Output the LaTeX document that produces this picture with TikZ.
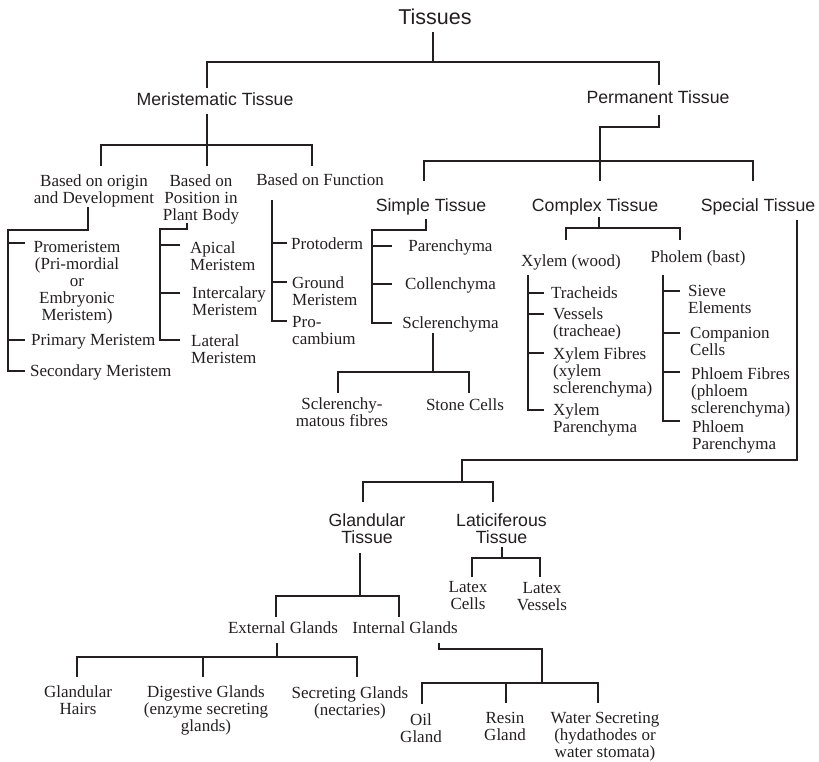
\documentclass[tikz,border=0pt]{standalone}
\usepackage{fontspec}
\setmainfont{Liberation Serif}
\setsansfont{Liberation Sans}
\definecolor{encre}{HTML}{231F20}
\tikzset{
  titre/.style={font=\sffamily\fontsize{17.7}{17.7}\selectfont, inner sep=0pt, text=encre},
  texte/.style={font=\fontsize{17}{17}\selectfont, inner sep=0pt, text=encre},
  lien/.style={draw=encre, line width=1.3pt},
}
\begin{document}
\begin{tikzpicture}[x=1pt, y=-1pt]
    \useasboundingbox (0,0) rectangle (819,761);

    % La racine et les deux grands groupes
    \node[titre, font=\sffamily\fontsize{21.5}{22}\selectfont, anchor=base] (tis) at (435,24) {Tissues};
    \node[titre, anchor=base] (mer) at (215,105) {Meristematic Tissue};
    \node[titre, anchor=base] (perm) at (658,103) {Permanent Tissue};

    \coordinate (tis-b) at (433,32);
    \coordinate (j1) at (433,62);
    \coordinate (mer-h) at (207,88);
    \coordinate (perm-h) at (659,85);
    \draw[lien] (tis-b) -- (j1);
    \draw[lien] (mer-h) |- (j1) -| (perm-h);

    % Meristematic : les trois criteres
    \node[texte, align=center, anchor=north] (orig) at (94,174) {Based on origin\\and Development};
    \node[texte, align=center, anchor=north] (posit) at (201,174) {Based on\\Position in\\Plant Body};
    \node[texte, anchor=base] (func) at (320,185) {Based on Function};

    \coordinate (mer-b) at (207,114);
    \coordinate (j2) at (207,145);
    \coordinate (orig-h) at (101,166);
    \coordinate (posit-h) at (207,166);
    \coordinate (func-h) at (312,166);
    \draw[lien] (mer-b) -- (posit-h);
    \draw[lien] (orig-h) |- (j2) -| (func-h);

    % Selon l'origine
    \node[texte, align=center, anchor=north] (prom) at (77,241) {Promeristem\\(Pri-mordial\\or\\Embryonic\\Meristem)};
    \node[texte, anchor=base west] (prim) at (31,345) {Primary Meristem};
    \node[texte, anchor=base west] (second) at (30,376) {Secondary Meristem};

    \coordinate (orig-b) at (88,207);
    \coordinate (o1) at (8,230);
    \coordinate (prom-t) at (25,243);
    \coordinate (prim-t) at (25,340);
    \coordinate (second-t) at (25,371);
    \draw[lien] (orig-b) |- (o1) |- (second-t);
    \draw[lien] (prom-t -| o1) -- (prom-t);
    \draw[lien] (prim-t -| o1) -- (prim-t);

    % Selon la position
    \node[texte, align=left, anchor=north west] (apic) at (190,241) {Apical\\Meristem};
    \node[texte, align=left, anchor=north west] (inter) at (192,286) {Intercalary\\Meristem};
    \node[texte, align=left, anchor=north west] (later) at (191,334) {Lateral\\Meristem};

    \coordinate (posit-b) at (187,223);
    \coordinate (p1) at (160,229);
    \coordinate (apic-t) at (180,245);
    \coordinate (inter-t) at (180,293);
    \coordinate (later-t) at (180,340);
    \draw[lien] (posit-b) |- (p1) |- (later-t);
    \draw[lien] (apic-t -| p1) -- (apic-t);
    \draw[lien] (inter-t -| p1) -- (inter-t);

    % Selon la fonction
    \node[texte, anchor=base west] (proto) at (291,249) {Protoderm};
    \node[texte, align=left, anchor=north west] (ground) at (292,276) {Ground\\Meristem};
    \node[texte, align=left, anchor=north west] (procamb) at (292,316) {Pro-\\cambium};

    \coordinate (func-b) at (272,200);
    \coordinate (proto-t) at (287,243);
    \coordinate (ground-t) at (287,282);
    \coordinate (procamb-t) at (287,321);
    \draw[lien] (func-b) |- (procamb-t);
    \draw[lien] (proto-t -| func-b) -- (proto-t);
    \draw[lien] (ground-t -| func-b) -- (ground-t);

    % Permanent : simple, complexe, special
    \node[titre, anchor=base] (simp) at (431,211) {Simple Tissue};
    \node[titre, anchor=base] (comp) at (595,211) {Complex Tissue};
    \node[titre, anchor=base] (spec) at (758,211) {Special Tissue};

    \coordinate (perm-b) at (659,115);
    \coordinate (q1) at (600,127);
    \coordinate (q2) at (600,161);
    \coordinate (simp-h) at (424,181);
    \coordinate (comp-h) at (600,181);
    \coordinate (spec-h) at (753,181);
    \draw[lien] (perm-b) |- (q1) -- (comp-h);
    \draw[lien] (simp-h) |- (q2) -| (spec-h);

    % Tissu simple
    \node[texte, anchor=base] (paren) at (450.5,251) {Parenchyma};
    \node[texte, anchor=base] (collen) at (450.5,289) {Collenchyma};
    \node[texte, anchor=base] (scler) at (450.5,328) {Sclerenchyma};

    \coordinate (simp-b) at (426,219);
    \coordinate (s1) at (372,230);
    \coordinate (paren-t) at (392,246);
    \coordinate (collen-t) at (392,284);
    \coordinate (scler-t) at (392,323);
    \draw[lien] (simp-b) |- (s1) |- (scler-t);
    \draw[lien] (paren-t -| s1) -- (paren-t);
    \draw[lien] (collen-t -| s1) -- (collen-t);

    % Sclerenchyme
    \node[texte, align=center, anchor=north] (sclfib) at (342,397) {Sclerenchy-\\matous fibres};
    \node[texte, anchor=base] (stone) at (465,410) {Stone Cells};

    \coordinate (scler-b) at (433,333);
    \coordinate (s2) at (433,372);
    \coordinate (sclfib-h) at (338,393);
    \coordinate (stone-h) at (469,393);
    \draw[lien] (scler-b) -- (s2);
    \draw[lien] (sclfib-h) |- (s2) -| (stone-h);

    % Tissu complexe
    \node[texte, anchor=base] (xyl) at (571,266) {Xylem (wood)};
    \node[texte, anchor=base] (phl) at (698,262) {Pholem (bast)};

    \coordinate (comp-b) at (599,217);
    \coordinate (c1) at (599,228);
    \coordinate (xyl-h) at (566,240);
    \coordinate (phl-h) at (680,240);
    \draw[lien] (comp-b) -- (c1);
    \draw[lien] (xyl-h) |- (c1) -| (phl-h);

    % Xyleme
    \node[texte, anchor=base west] (trach) at (551,298) {Tracheids};
    \node[texte, align=left, anchor=north west] (vess) at (553,307) {Vessels\\(tracheae)};
    \node[texte, align=left, anchor=north west] (xfib) at (553,347) {Xylem Fibres\\(xylem\\sclerenchyma)};
    \node[texte, align=left, anchor=north west] (xpar) at (553,403) {Xylem\\Parenchyma};

    \coordinate (xyl-b) at (528,275);
    \coordinate (trach-t) at (544,293);
    \coordinate (vess-t) at (544,314);
    \coordinate (xfib-t) at (544,353);
    \coordinate (xpar-t) at (544,410);
    \draw[lien] (xyl-b) |- (xpar-t);
    \draw[lien] (trach-t -| xyl-b) -- (trach-t);
    \draw[lien] (vess-t -| xyl-b) -- (vess-t);
    \draw[lien] (xfib-t -| xyl-b) -- (xfib-t);

    % Phloeme
    \node[texte, align=left, anchor=north west] (sieve) at (688,285) {Sieve\\Elements};
    \node[texte, align=left, anchor=north west] (compan) at (690,327) {Companion\\Cells};
    \node[texte, align=left, anchor=north west] (pfib) at (691,367) {Phloem Fibres\\(phloem\\sclerenchyma)};
    \node[texte, align=left, anchor=north west] (ppar) at (692,420) {Phloem\\Parenchyma};

    \coordinate (phl-b) at (663,275);
    \coordinate (sieve-t) at (680,291);
    \coordinate (compan-t) at (680,333);
    \coordinate (pfib-t) at (680,372);
    \coordinate (ppar-t) at (680,421);
    \draw[lien] (phl-b) |- (ppar-t);
    \draw[lien] (sieve-t -| phl-b) -- (sieve-t);
    \draw[lien] (compan-t -| phl-b) -- (compan-t);
    \draw[lien] (pfib-t -| phl-b) -- (pfib-t);

    % Tissu special
    \node[titre, align=center, anchor=north] (gland) at (367,513) {Glandular\\Tissue};
    \node[titre, align=center, anchor=north] (latic) at (501.5,513) {Laticiferous\\Tissue};

    \coordinate (spec-b) at (797,220);
    \coordinate (r1) at (462,460);
    \coordinate (r2) at (462,482);
    \coordinate (gland-h) at (363,502);
    \coordinate (latic-h) at (493,502);
    \draw[lien] (spec-b) |- (r1) -- (r2);
    \draw[lien] (gland-h) |- (r2) -| (latic-h);

    % Laticiferes
    \node[texte, align=center, anchor=north] (lcell) at (468,581) {Latex\\Cells};
    \node[texte, align=center, anchor=north] (lvess) at (542,582) {Latex\\Vessels};

    \coordinate (latic-b) at (502,547);
    \coordinate (l1) at (502,558);
    \coordinate (lcell-h) at (472,577);
    \coordinate (lvess-h) at (540,577);
    \draw[lien] (latic-b) -- (l1);
    \draw[lien] (lcell-h) |- (l1) -| (lvess-h);

    % Glandulaire
    \node[texte, anchor=base] (ext) at (283,633) {External Glands};
    \node[texte, anchor=base] (int) at (405,633) {Internal Glands};

    \coordinate (gland-b) at (360,553);
    \coordinate (g1) at (360,596);
    \coordinate (ext-h) at (276,617);
    \coordinate (int-h) at (399,617);
    \draw[lien] (gland-b) -- (g1);
    \draw[lien] (ext-h) |- (g1) -| (int-h);

    % Glandes externes
    \node[texte, align=center, anchor=north] (hair) at (78,685) {Glandular\\Hairs};
    \node[texte, align=center, anchor=north] (dig) at (206,685) {Digestive Glands\\(enzyme secreting\\glands)};
    \node[texte, align=center, anchor=north] (secr) at (350,686) {Secreting Glands\\(nectaries)};

    \coordinate (ext-b) at (277,643);
    \coordinate (e1) at (277,657);
    \coordinate (hair-h) at (77,677);
    \coordinate (dig-h) at (203,677);
    \coordinate (secr-h) at (357,677);
    \draw[lien] (ext-b) -- (e1);
    \draw[lien] (hair-h) |- (e1) -| (secr-h);
    \draw[lien] (dig-h) -- (dig-h |- e1);

    % Glandes internes
    \node[texte, align=center, anchor=north] (oil) at (421,713) {Oil\\Gland};
    \node[texte, align=center, anchor=north] (resin) at (505,712) {Resin\\Gland};
    \node[texte, align=center, anchor=north] (water) at (605,712) {Water Secreting\\(hydathodes or\\water stomata)};

    \coordinate (int-b) at (439,643);
    \coordinate (i1) at (542,649);
    \coordinate (i2) at (542,683);
    \coordinate (oil-h) at (422,704);
    \coordinate (resin-h) at (506,703);
    \coordinate (water-h) at (598,703);
    \draw[lien] (int-b) |- (i1) -- (i2);
    \draw[lien] (oil-h) |- (i2) -| (water-h);
    \draw[lien] (resin-h) -- (resin-h |- i2);

\end{tikzpicture}
\end{document}
